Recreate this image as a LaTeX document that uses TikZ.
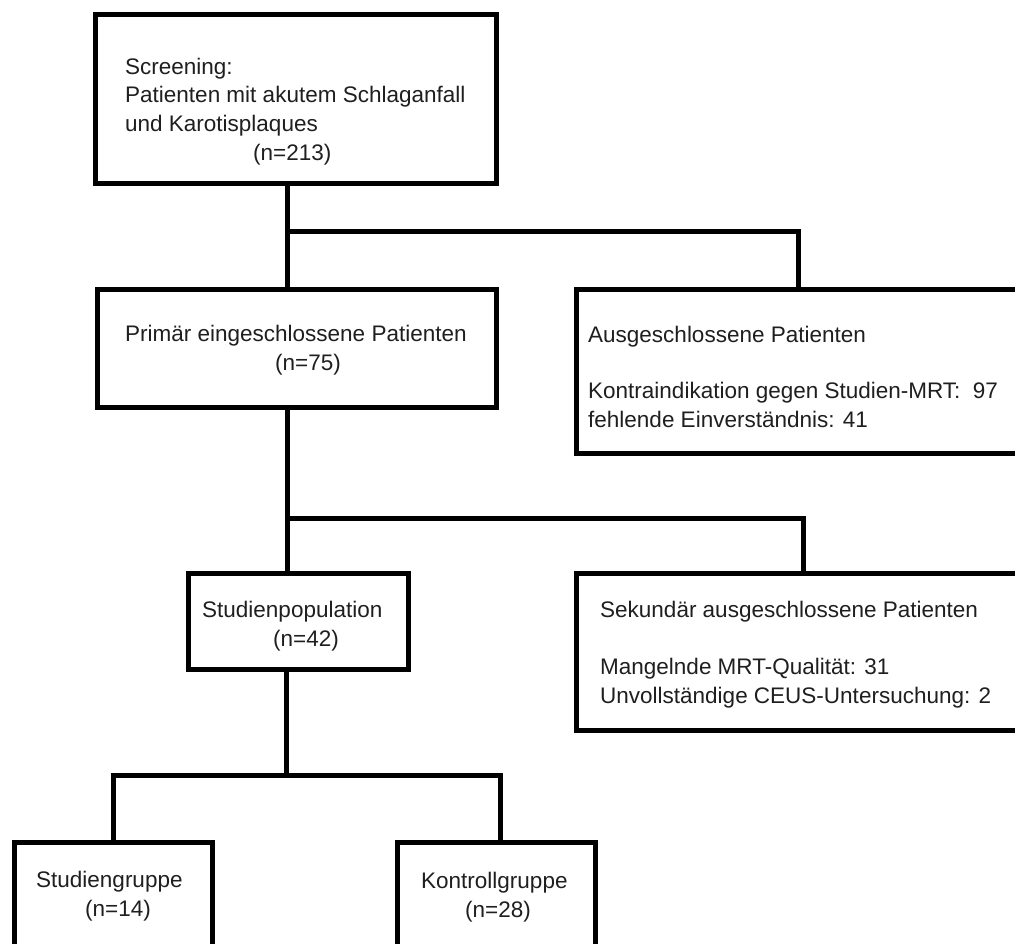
\documentclass[tikz,border=0pt]{standalone}
\usepackage{fontspec}
\setmainfont{Liberation Sans}
\begin{document}
\begin{tikzpicture}[x=1pt,y=-1pt,
  boxstyle/.style={draw=black, line width=5pt, fill=white, rectangle, inner sep=0pt, outer sep=0pt},
  conn/.style={draw=black, line width=5pt},
  txt/.style={anchor=base west, inner sep=0pt, text=black!88, font=\fontsize{22.5}{28}\selectfont}
]
\useasboundingbox (0,0) rectangle (1015,943);
\clip (0,0) rectangle (1015,943);

% boxes (corner-to-corner, stroke centres)
\node[boxstyle, minimum width=401pt, minimum height=169pt] (screen) at (295.5,98.5) {};
\node[boxstyle, minimum width=399pt, minimum height=118pt] (prim) at (296.5,348) {};
\node[boxstyle, minimum width=460pt, minimum height=164pt] (ausg) at (806,371) {};
\node[boxstyle, minimum width=460pt, minimum height=157pt] (sek) at (806,651.5) {};
\node[boxstyle, minimum width=220pt, minimum height=96pt] (pop) at (298,621) {};
\node[boxstyle, minimum width=198pt, minimum height=130pt] (sg) at (113,907) {};
\node[boxstyle, minimum width=198pt, minimum height=130pt] (kg) at (496,907) {};

% junction coordinates
\coordinate (j1) at (287,231);
\coordinate (j1r) at (798,231);
\coordinate (j2) at (287,518);
\coordinate (j2r) at (803,518);
\coordinate (j3) at (286,775);
\coordinate (j3l) at (113,775);
\coordinate (j3r) at (500,775);

% connectors
\draw[conn] (screen.south -| j1) -- (j1) -- (prim.north -| j1);
\draw[conn] (j1) -- (j1r) -- (ausg.north -| j1r);
\draw[conn] (prim.south -| j2) -- (j2) -- (pop.north -| j2);
\draw[conn] (j2) -- (j2r) -- (sek.north -| j2r);
\draw[conn] (pop.south -| j3) -- (j3);
\draw[conn, line cap=rect] (j3l) -- (j3r);
\draw[conn] (j3l) -- (sg.north -| j3l);
\draw[conn] (j3r) -- (kg.north -| j3r);

% texts
\node[txt] (t1a) at (125,74) {Screening:};
\node[txt] (t1b) at (125,102.5) {Patienten mit akutem Schlaganfall};
\node[txt] (t1c) at (125,131) {und Karotisplaques};
\node[txt] (t1d) at (253,160) {(n=213)};

\node[txt] (t2a) at (125,341.5) {Primär eingeschlossene Patienten};
\node[txt] (t2b) at (275,370) {(n=75)};

\node[txt] (t3a) at (588,342) {Ausgeschlossene Patienten};
\node[txt] (t3b) at (588,398) {Kontraindikation gegen Studien-MRT:\ \ 97};
\node[txt] (t3c) at (588,427) {fehlende Einverständnis: 41};

\node[txt] (t4a) at (600,617) {Sekundär ausgeschlossene Patienten};
\node[txt] (t4b) at (600,674) {Mangelnde MRT-Qualität: 31};
\node[txt] (t4c) at (600,703) {Unvollständige CEUS-Untersuchung: 2};

\node[txt] (t5a) at (202,617) {Studienpopulation};
\node[txt] (t5b) at (273,646) {(n=42)};

\node[txt] (t6a) at (36,887) {Studiengruppe};
\node[txt] (t6b) at (85,916) {(n=14)};

\node[txt] (t7a) at (421,888) {Kontrollgruppe};
\node[txt] (t7b) at (465,917) {(n=28)};
\end{tikzpicture}
\end{document}
